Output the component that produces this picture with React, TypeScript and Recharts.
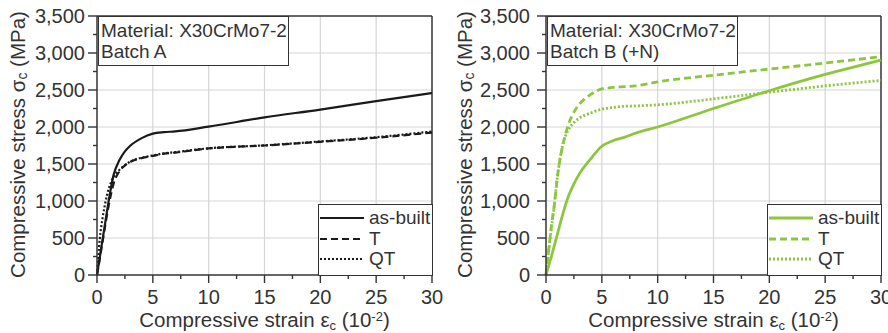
import React from "react";
import {
	CartesianGrid,
	Legend,
	Line,
	LineChart,
	ReferenceLine,
	XAxis,
	YAxis,
} from "recharts";

// strain in 10^-2, stress in MPa
const strainA = [0, 0.25, 0.5, 0.75, 1, 1.5, 2, 2.5, 3, 4, 5, 6, 7, 10, 15, 20, 25, 30];
const stressAAsBuilt = [0, 240, 480, 720, 960, 1360, 1550, 1670, 1750, 1850, 1910, 1930, 1940, 2005, 2130, 2235, 2350, 2460];
const stressAT = [0, 220, 450, 680, 900, 1240, 1400, 1480, 1530, 1580, 1610, 1640, 1655, 1710, 1750, 1800, 1855, 1925];
const stressAQT = [0, 490, 770, 980, 1140, 1330, 1420, 1485, 1535, 1585, 1615, 1645, 1660, 1712, 1752, 1805, 1862, 1940];

const strainB = [0, 0.25, 0.5, 0.75, 1, 1.5, 2, 2.5, 3, 4, 5, 6, 7, 8, 10, 15, 20, 25, 30];
const stressBAsBuilt = [0, 130, 260, 400, 540, 820, 1060, 1230, 1370, 1570, 1740, 1815, 1860, 1915, 2000, 2250, 2490, 2710, 2905];
const stressBT = [0, 350, 680, 950, 1300, 1750, 2030, 2200, 2310, 2440, 2515, 2535, 2545, 2555, 2610, 2700, 2783, 2864, 2950];
const stressBQT = [0, 330, 650, 950, 1300, 1760, 1960, 2060, 2120, 2190, 2240, 2265, 2280, 2285, 2300, 2380, 2470, 2555, 2630];

const seriesNames = ["as-built", "T", "QT"];
const stressTicks = [0, 250, 500, 750, 1000, 1250, 1500, 1750, 2000, 2250, 2500, 2750, 3000, 3250, 3500];
const strainTicks = [0, 2.5, 5, 7.5, 10, 12.5, 15, 17.5, 20, 22.5, 25, 27.5, 30];
const stressGrid = [500, 1000, 1500, 2000, 2500, 3000];
const strainGrid = [5, 10, 15, 20, 25];

const FONT = "Arial, 'Liberation Sans', sans-serif";
const INK = "#333";
const GREEN = "#8cc63f";
const DASHES = [undefined, "7 4", "2 2"];

function toRows(strain: number[], cols: number[][]) {
	return strain.map((s, i) => ({
		strain: s,
		"as-built": cols[0][i],
		T: cols[1][i],
		QT: cols[2][i],
	}));
}

function YTick(props: any) {
	const { x, y, payload, gap } = props;
	const major = payload.value % 500 === 0;
	return (
		<g>
			<line x1={x} x2={x - (major ? 9 : 4)} y1={y} y2={y} stroke={INK} strokeWidth={1.4} />
			{major && (
				<text x={x - gap} y={y} dy="0.36em" textAnchor="end" fontSize={20} fill={INK} fontFamily={FONT}>
					{payload.value.toLocaleString("en-US")}
				</text>
			)}
		</g>
	);
}

function XTick(props: any) {
	const { x, y, payload } = props;
	const major = payload.value % 5 === 0;
	return (
		<g>
			<line x1={x} x2={x} y1={y} y2={y + (major ? 8 : 4)} stroke={INK} strokeWidth={1.4} />
			{major && (
				<text x={x} y={y + 29} textAnchor="middle" fontSize={20} fill={INK} fontFamily={FONT}>
					{payload.value}
				</text>
			)}
		</g>
	);
}

function YTitle(props: any) {
	const { viewBox, cx } = props;
	const cy = viewBox.y + viewBox.height / 2 - 1;
	return (
		<text
			x={cx}
			y={cy}
			transform={`rotate(-90 ${cx} ${cy})`}
			textAnchor="middle"
			dominantBaseline="central"
			fontSize={20.5}
			fill={INK}
			fontFamily={FONT}
		>
			Compressive stress σ
			<tspan dy={5} fontSize={14}>c</tspan>
			<tspan dy={-5}> (MPa)</tspan>
		</text>
	);
}

function XTitle(props: any) {
	const { viewBox } = props;
	const cx = viewBox.x + viewBox.width / 2;
	return (
		<text x={cx} y={viewBox.y + 52} textAnchor="middle" fontSize={20.5} fill={INK} fontFamily={FONT}>
			Compressive strain ε
			<tspan dy={3} fontSize={13}>c</tspan>
			<tspan dy={-3}> (10</tspan>
			<tspan dy={-6} fontSize={13}>-2</tspan>
			<tspan dy={6}>)</tspan>
		</text>
	);
}

function LegendBox({ color, widths }: { color: string; widths: number }) {
	return (
		<div
			style={{
				boxSizing: "border-box",
				width: "100%",
				height: "100%",
				border: `1.5px solid ${INK}`,
				background: "#fff",
				paddingTop: 3,
				fontFamily: FONT,
				fontSize: 19,
				color: INK,
			}}
		>
			{seriesNames.map((name, i) => (
				<div key={name} style={{ display: "flex", alignItems: "center", height: 20.5 }}>
					<svg width={46} height={10} style={{ marginLeft: 1 }}>
						<line x1={0} x2={44} y1={5} y2={5} stroke={color} strokeWidth={widths} strokeDasharray={DASHES[i]} />
					</svg>
					<span style={{ marginLeft: 3, lineHeight: "20px" }}>{name}</span>
				</div>
			))}
		</div>
	);
}

function Panel({
	data,
	color,
	widths,
	axisWidth,
	labelGap,
	titleX,
	rightMargin,
	batch,
}: {
	data: any[];
	color: string;
	widths: number;
	axisWidth: number;
	labelGap: number;
	titleX: number;
	rightMargin: number;
	batch: string;
}) {
	const plotRight = 444 - rightMargin;
	return (
		<div style={{ position: "relative", width: 444, height: 333 }}>
			<LineChart width={444} height={333} data={data} margin={{ top: 16, right: rightMargin, bottom: 0, left: 0 }}>
				<CartesianGrid
					stroke="#d6d6d6"
					strokeWidth={1.2}
					horizontalValues={stressGrid}
					verticalValues={strainGrid}
				/>
				<XAxis
					dataKey="strain"
					type="number"
					domain={[0, 30]}
					ticks={strainTicks}
					interval={0}
					height={58}
					tickSize={0}
					tickMargin={0}
					tickLine={false}
					tick={<XTick />}
					stroke={INK}
					strokeWidth={1.5}
					label={<XTitle />}
				/>
				<YAxis
					type="number"
					domain={[0, 3500]}
					ticks={stressTicks}
					interval={0}
					width={axisWidth}
					tickSize={0}
					tickMargin={0}
					tickLine={false}
					tick={<YTick gap={labelGap} />}
					stroke={INK}
					strokeWidth={1.5}
					label={<YTitle cx={titleX} />}
				/>
				<ReferenceLine y={3500} stroke={INK} strokeWidth={1.5} />
				<ReferenceLine x={30} stroke={INK} strokeWidth={1.5} />
				{seriesNames.map((name, i) => (
					<Line
						key={name}
						type="monotone"
						dataKey={name}
						stroke={color}
						strokeWidth={widths}
						strokeDasharray={DASHES[i]}
						dot={false}
						activeDot={false}
						isAnimationActive={false}
					/>
				))}
				<Legend
					layout="vertical"
					align="center"
					verticalAlign="middle"
					wrapperStyle={{ left: plotRight - 114, top: 204, width: 115, height: 72 }}
					content={() => <LegendBox color={color} widths={widths} />}
				/>
			</LineChart>
			<div
				style={{
					position: "absolute",
					left: axisWidth + 1,
					top: 16,
					width: 191,
					height: 50,
					boxSizing: "border-box",
					border: `1.5px solid ${INK}`,
					background: "#fff",
					fontFamily: FONT,
					fontSize: 19,
					lineHeight: "21px",
					color: INK,
					padding: "3px 0 0 2px",
					whiteSpace: "nowrap",
				}}
			>
				<div>Material: X30CrMo7-2</div>
				<div>{batch}</div>
			</div>
		</div>
	);
}

export default function App() {
	const dataA = toRows(strainA, [stressAAsBuilt, stressAT, stressAQT]);
	const dataB = toRows(strainB, [stressBAsBuilt, stressBT, stressBQT]);
	return (
		<div style={{ position: "absolute", left: 0, top: 0, width: 888, height: 333, background: "#fff" }}>
			<div style={{ position: "absolute", left: 0, top: 0 }}>
				<Panel data={dataA} color="#1a1a1a" widths={2.2} axisWidth={97} labelGap={12} titleX={17} rightMargin={12} batch="Batch A" />
			</div>
			<div style={{ position: "absolute", left: 444, top: 0 }}>
				<Panel data={dataB} color={GREEN} widths={2.8} axisWidth={102} labelGap={16} titleX={20} rightMargin={7} batch="Batch B (+N)" />
			</div>
		</div>
	);
}
